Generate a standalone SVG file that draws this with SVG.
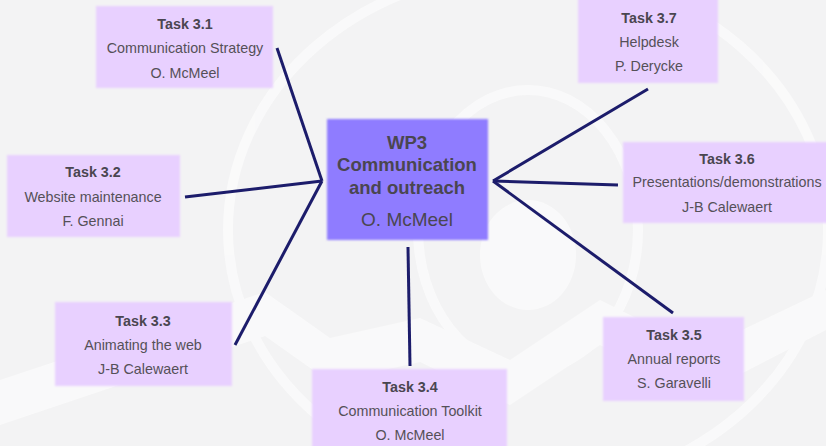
<svg xmlns="http://www.w3.org/2000/svg" width="826" height="446" viewBox="0 0 826 446">
<defs>
<filter id="soft" x="-5%" y="-5%" width="110%" height="110%"><feGaussianBlur stdDeviation="1.2"/></filter>
<style>
.task{fill:#e8d0ff;filter:url(#soft);}
.t{font-family:"Liberation Sans","Open Sans",sans-serif;font-size:14.3px;fill:#555058;text-anchor:middle;}
.b{font-weight:bold;fill:#4a4650;}
.conn line{stroke:#1c1c6b;stroke-width:3;stroke-linecap:butt;}
.bg{fill:none;stroke:#ffffff;}
</style>
</defs>
<rect width="826" height="446" fill="#f3f3f4"/>
<g id="background" opacity="0.55">
<path d="M0,380 L265,292 L330,338 L420,318 L510,360 L600,300 L700,350 L826,290 L826,330 L700,395 L600,345 L510,405 L420,362 L330,382 L265,336 L0,425 Z" fill="#ffffff"/>
<ellipse cx="528" cy="230" rx="110" ry="140" class="bg" stroke-width="10"/>
<ellipse cx="528" cy="230" rx="300" ry="260" class="bg" stroke-width="10"/>
<ellipse cx="528" cy="255" rx="48" ry="55" fill="#ffffff"/>
</g>
<g class="conn" id="connectors">
<line x1="277" y1="48" x2="322" y2="181"/>
<line x1="185" y1="197" x2="322" y2="181"/>
<line x1="235" y1="345" x2="322" y2="181"/>
<line x1="408" y1="247" x2="410" y2="366"/>
<line x1="648" y1="89" x2="493" y2="181"/>
<line x1="618" y1="185" x2="493" y2="181"/>
<line x1="673" y1="313" x2="493" y2="181"/>
</g>
<g id="wp3">
<rect x="327" y="119" width="161" height="121" fill="#8f7bff" filter="url(#soft)"/>
<text x="407" y="149" class="t b" style="font-size:18.5px">WP3</text>
<text x="407" y="171" class="t b" style="font-size:18.5px">Communication</text>
<text x="407" y="194" class="t b" style="font-size:18.5px">and outreach</text>
<text x="407" y="226" class="t" style="font-size:19px;fill:#4a4650">O. McMeel</text>
</g>
<g id="task31">
<rect class="task" x="96" y="6" width="177" height="82"/>
<text x="185" y="29" class="t b">Task 3.1</text>
<text x="185" y="53" class="t">Communication Strategy</text>
<text x="185" y="78" class="t">O. McMeel</text>
</g>
<g id="task32">
<rect class="task" x="7" y="155" width="173" height="82"/>
<text x="93" y="177" class="t b">Task 3.2</text>
<text x="93" y="202" class="t">Website maintenance</text>
<text x="93" y="226" class="t">F. Gennai</text>
</g>
<g id="task33">
<rect class="task" x="55" y="302" width="177" height="84"/>
<text x="143" y="326" class="t b">Task 3.3</text>
<text x="143" y="350" class="t">Animating the web</text>
<text x="143" y="374" class="t">J-B Calewaert</text>
</g>
<g id="task34">
<rect class="task" x="312" y="369" width="195" height="82"/>
<text x="410" y="392" class="t b">Task 3.4</text>
<text x="410" y="416" class="t">Communication Toolkit</text>
<text x="410" y="440" class="t">O. McMeel</text>
</g>
<g id="task35">
<rect class="task" x="603" y="317" width="141" height="84"/>
<text x="674" y="340" class="t b">Task 3.5</text>
<text x="674" y="364" class="t">Annual reports</text>
<text x="674" y="388" class="t">S. Garavelli</text>
</g>
<g id="task36">
<rect class="task" x="623" y="142" width="210" height="81"/>
<text x="727" y="164" class="t b">Task 3.6</text>
<text x="727" y="187" class="t">Presentations/demonstrations</text>
<text x="727" y="212" class="t">J-B Calewaert</text>
</g>
<g id="task37">
<rect class="task" x="578" y="-4" width="140" height="87"/>
<text x="649" y="23" class="t b">Task 3.7</text>
<text x="649" y="47" class="t">Helpdesk</text>
<text x="649" y="71" class="t">P. Derycke</text>
</g>
</svg>
